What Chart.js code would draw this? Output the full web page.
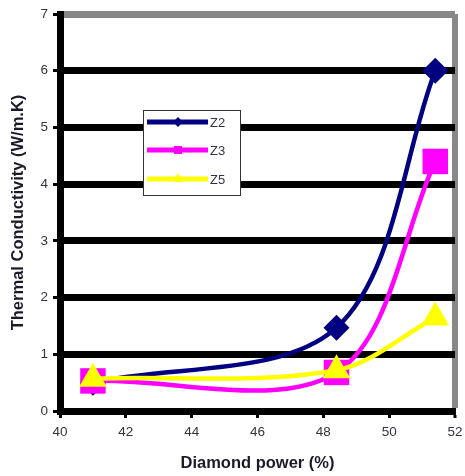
<!DOCTYPE html>
<html>
<head>
<meta charset="utf-8">
<script src="https://cdn.jsdelivr.net/npm/chart.js@4/dist/chart.umd.min.js"></script>
<style>
  html, body { margin: 0; padding: 0; background: #ffffff; }
  #wrap { width: 465px; height: 476px; position: relative; }
</style>
</head>
<body>
<div id="wrap"><canvas id="c" width="465" height="476"></canvas></div>
<script>
// Diamond power (%) for each measurement
const diamondPower = [41, 48.4, 51.4];
// Thermal conductivity (W/m.K) per series
const z2Values = [0.5, 1.47, 6.0];
const z3Values = [0.53, 0.68, 4.4];
const z5Values = [0.57, 0.72, 1.65];
const seriesNames = ['Z2', 'Z3', 'Z5'];
const xTickRange = [40, 52, 2];
const yTickRange = [0, 7, 1];

const colors = ['#000080', '#ff00ff', '#ffff00'];
const styles = ['rectRot', 'rect', 'triangle'];
const radii = [13, 18, 16];
const seriesValues = [z2Values, z3Values, z5Values];

const datasets = seriesNames.map((name, i) => ({
  label: name,
  data: diamondPower.map((x, j) => ({ x: x, y: seriesValues[i][j] })),
  borderColor: colors[i],
  backgroundColor: colors[i],
  borderWidth: 4.5,
  tension: 0.33,
  pointStyle: styles[i],
  pointRadius: radii[i],
  pointHoverRadius: radii[i],
  pointBorderWidth: 0,
  pointBackgroundColor: colors[i],
  order: 3 - i,
  clip: false
}));

const legendBox = {
  id: 'legendBox',
  afterDraw(chart) {
    const ctx = chart.ctx;
    ctx.save();
    const L = 143, T = 110, W = 97, H = 85;
    ctx.fillStyle = '#ffffff';
    ctx.fillRect(L, T, W, H);
    ctx.strokeStyle = '#333333';
    ctx.lineWidth = 1;
    ctx.strokeRect(L + 0.5, T + 0.5, W, H);
    const rows = [122, 150, 179];
    seriesNames.forEach((name, i) => {
      const y = rows[i];
      ctx.strokeStyle = colors[i];
      ctx.lineWidth = 5;
      ctx.beginPath();
      ctx.moveTo(147, y);
      ctx.lineTo(208, y);
      ctx.stroke();
      ctx.fillStyle = colors[i];
      const cx = 178;
      ctx.beginPath();
      if (styles[i] === 'rectRot') {
        ctx.moveTo(cx, y - 5); ctx.lineTo(cx + 5, y); ctx.lineTo(cx, y + 5); ctx.lineTo(cx - 5, y);
      } else if (styles[i] === 'rect') {
        ctx.rect(cx - 4, y - 4, 8, 8);
      } else {
        ctx.moveTo(cx, y - 6); ctx.lineTo(cx + 5, y + 3); ctx.lineTo(cx - 5, y + 3);
      }
      ctx.closePath();
      ctx.fill();
      ctx.fillStyle = '#333344';
      ctx.font = '13px "Liberation Sans", Arial, sans-serif';
      ctx.textBaseline = 'middle';
      ctx.textAlign = 'left';
      ctx.fillText(name, 210, y + 1);
    });
    ctx.restore();
  }
};

new Chart(document.getElementById('c'), {
  type: 'line',
  data: { datasets: datasets },
  plugins: [legendBox],
  options: {
    responsive: false,
    animation: false,
    devicePixelRatio: 1,
    layout: { autoPadding: false, padding: { top: 14, right: 10, left: 0, bottom: 0 } },
    plugins: { legend: { display: false }, tooltip: { enabled: false } },
    scales: {
      x: {
        type: 'linear',
        min: xTickRange[0], max: xTickRange[1],
        ticks: { stepSize: xTickRange[2], color: '#333344', padding: 6,
          font: { family: '"Liberation Sans", Arial, sans-serif', size: 13.5 } },
        grid: {
          color: (c) => (c.tick && c.tick.value === 52 ? '#888888' : 'rgba(0,0,0,0)'),
          lineWidth: (c) => (c.tick && c.tick.value === 52 ? 6 : 1),
          tickColor: '#000000', tickLength: 7, tickWidth: 3
        },
        border: { color: '#000000', width: 7 },
        title: { display: true, text: 'Diamond power (%)', color: '#1a1a2a',
          font: { family: '"Liberation Sans", Arial, sans-serif', size: 16.5, weight: 'bold' },
          padding: { top: 0, bottom: 3 } },
        afterFit: (s) => { s.height = 65; s.paddingLeft = 0; s.paddingRight = 0; }
      },
      y: {
        min: yTickRange[0], max: yTickRange[1],
        ticks: { stepSize: yTickRange[2], color: '#333344', padding: 5,
          font: { family: '"Liberation Sans", Arial, sans-serif', size: 13.5 } },
        grid: {
          color: (c) => (c.tick && c.tick.value === 7 ? '#888888' : '#000000'),
          lineWidth: 7,
          tickColor: '#000000', tickLength: 7, tickWidth: 3
        },
        border: { color: '#000000', width: 7 },
        title: { display: true, text: 'Thermal Conductivity (W/m.K)', color: '#1a1a2a',
          font: { family: '"Liberation Sans", Arial, sans-serif', size: 16.5, weight: 'bold' },
          padding: { top: 9, bottom: 0 } },
        afterFit: (s) => { s.width = 60; s.paddingTop = 0; s.paddingBottom = 0; }
      }
    }
  }
});
</script>
</body>
</html>
